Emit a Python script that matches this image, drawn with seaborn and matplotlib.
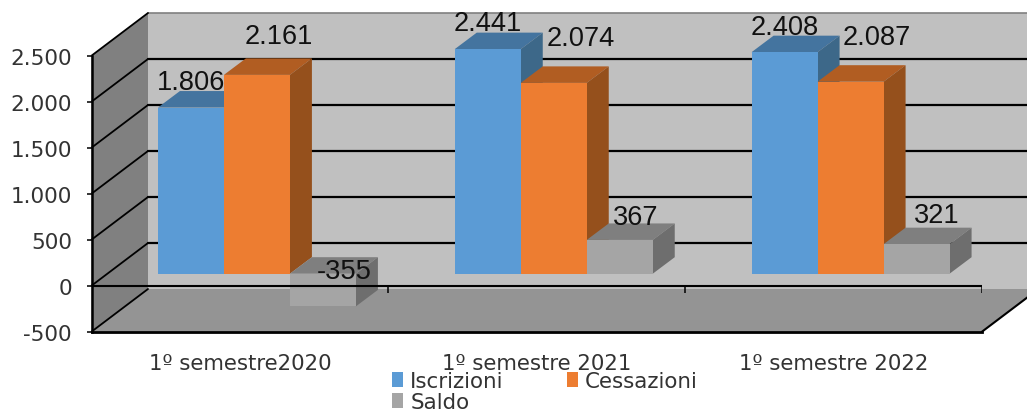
import pandas as pd
import seaborn as sns
import matplotlib.pyplot as plt
from matplotlib.patches import Polygon

periodi = ['1º semestre2020', '1º semestre 2021', '1º semestre 2022']
iscrizioni = [1806, 2441, 2408]
cessazioni = [2161, 2074, 2087]
saldo = [-355, 367, 321]
serie = ['Iscrizioni', 'Cessazioni', 'Saldo']
y_ticks = [-500, 0, 500, 1000, 1500, 2000, 2500]

W, H = 1027, 414
colori = ['#5B9BD5', '#ED7D31', '#A5A5A5']
colori_top = ['#44749F', '#B15D22', '#7F7F7F']
colori_lato = ['#3D6889', '#95501C', '#6E6E6E']

# spostamento delle etichette rispetto alla barra, in pixel
label_offset = [[(0, 26), (0, 26), (0, 25)],
                [(22, 39), (27, 45), (26, 45)],
                [(21, 3), (16, 23), (20, 29)]]

df = pd.DataFrame({'Periodo': periodi * 3,
                   'Serie': [s for s in serie for _ in periodi],
                   'Valore': iscrizioni + cessazioni + saldo})

sns.set_style('white')
plt.rcParams['font.family'] = ['DejaVu Sans']
fig = plt.figure(figsize=(W / 100, H / 100), dpi=100)


def axes_px(left, top, right, bottom):
    return fig.add_axes([left / W, 1 - bottom / H, (right - left) / W, (bottom - top) / H])


# piano frontale
FX0, FX1 = 91.5, 982
FTOP, FBOT = 56.7, 332.7
# profondita delle pareti e delle barre
WALL_X, WALL_Y = 56.5, 42.7
BAR_X, BAR_Y = 22, 16.5
SHIFT_X, SHIFT_Y = 17, 12
PX_PER_UNIT = (FBOT - FTOP) / 3000


def y_px(v):
    return FBOT - (v + 500) * PX_PER_UNIT


# sfondo 3D in pixel
bg = axes_px(0, 0, W, H)
bg.set_xlim(0, W)
bg.set_ylim(H, 0)
bg.axis('off')
bg.set_zorder(0)
bx0, bx1 = FX0 + WALL_X, FX1 + WALL_X
btop, bbot = FTOP - WALL_Y, FBOT - WALL_Y
bg.add_patch(Polygon([(bx0, btop), (bx1, btop), (bx1, bbot), (bx0, bbot)], fc='#C0C0C0', ec='none'))
bg.add_patch(Polygon([(FX0, FTOP), (bx0, btop), (bx0, bbot), (FX0, FBOT)], fc='#808080', ec='none'))
bg.add_patch(Polygon([(FX0, FBOT), (bx0, bbot), (bx1, bbot), (FX1, FBOT)], fc='#949494', ec='none'))
bg.plot([bx0, bx1], [btop, btop], color='#808080', lw=1.2)
for v in y_ticks:
    yf = y_px(v)
    yb = yf - WALL_Y
    bg.plot([FX0, bx0], [yf, yb], color='black', lw=1.3)
    if v > -500 and v < 2500:
        bg.plot([bx0, bx1], [yb, yb], color='black', lw=1.6)
bg.plot([FX1, bx1], [FBOT, bbot], color='black', lw=1.5)

# barre, spostate verso il centro della profondita
ax = axes_px(FX0 + SHIFT_X, FTOP - SHIFT_Y, FX1 + SHIFT_X, FBOT - SHIFT_Y)
ax.set_zorder(1)
ax.patch.set_alpha(0)
sns.barplot(df, x='Periodo', y='Valore', hue='Serie', palette=colori, hue_order=serie,
            order=periodi, width=0.667, gap=0, saturation=1, linewidth=0, ax=ax)
ax.set_xlim(-0.5, 2.5)
ax.set_ylim(-500, 2500)
ax.axis('off')
handles, labels = ax.get_legend_handles_labels()
ax.get_legend().remove()

dx = BAR_X * 3 / (FX1 - FX0)
dy = BAR_Y / PX_PER_UNIT
for s, cont in enumerate(ax.containers):
    z = 2 + 2 * s
    for c, bar in enumerate(cont):
        x0, x1 = bar.get_x(), bar.get_x() + bar.get_width()
        y0 = min(bar.get_y(), bar.get_y() + bar.get_height())
        y1 = max(bar.get_y(), bar.get_y() + bar.get_height())
        bar.set_zorder(z + 1)
        ax.add_patch(Polygon([(x0, y1), (x0 + dx, y1 + dy), (x1 + dx, y1 + dy), (x1, y1)],
                             fc=colori_top[s], ec='none', zorder=z, clip_on=False))
        ax.add_patch(Polygon([(x1, y0), (x1 + dx, y0 + dy), (x1 + dx, y1 + dy), (x1, y1)],
                             fc=colori_lato[s], ec='none', zorder=z, clip_on=False))
        v = df[df['Serie'] == serie[s]]['Valore'].iloc[c]
        ox, oy = label_offset[s][c]
        ax.annotate(f'{v:,}'.replace(',', '.'), ((x0 + x1) / 2, y1),
                    xytext=(ox * 0.72, oy * 0.72), textcoords='offset points',
                    ha='center', va='center', fontsize=19.6, family='Liberation Sans',
                    color='#111111', zorder=20, annotation_clip=False)

# assi frontali con le etichette
front = axes_px(FX0, FTOP, FX1, FBOT)
front.set_zorder(2)
front.patch.set_alpha(0)
front.set_xlim(-0.5, 2.5)
front.set_ylim(-500, 2500)
front.set_xticks(range(len(periodi)), periodi)
front.set_yticks(y_ticks, [f'{v:,}'.replace(',', '.') for v in y_ticks])
front.tick_params(axis='x', length=0, pad=15, labelsize=15.3, labelcolor='#333333')
front.tick_params(axis='y', left=True, length=3.6, width=1.3, pad=10.4, labelsize=15.5, labelcolor='#333333')
for side in ['top', 'right']:
    front.spines[side].set_visible(False)
front.spines['left'].set_linewidth(1.8)
front.spines['left'].set_color('black')
front.spines['bottom'].set_linewidth(2)
front.spines['bottom'].set_color('black')
front.axhline(0, color='black', lw=1.5, zorder=5)
front.vlines([0.5, 1.5, 2.5], -75, 0, color='black', lw=1.1)

fig.legend([handles[0], handles[2], handles[1]], [labels[0], labels[2], labels[1]],
           ncol=2, loc='lower left', bbox_to_anchor=(392 / W, 1 / H), frameon=False,
           fontsize=15.4, handlelength=0.52, handleheight=0.7, handletextpad=0.33,
           columnspacing=2.95, labelspacing=0.05, borderpad=0, borderaxespad=0,
           labelcolor='#333333')

plt.savefig('out.png', dpi=100)
